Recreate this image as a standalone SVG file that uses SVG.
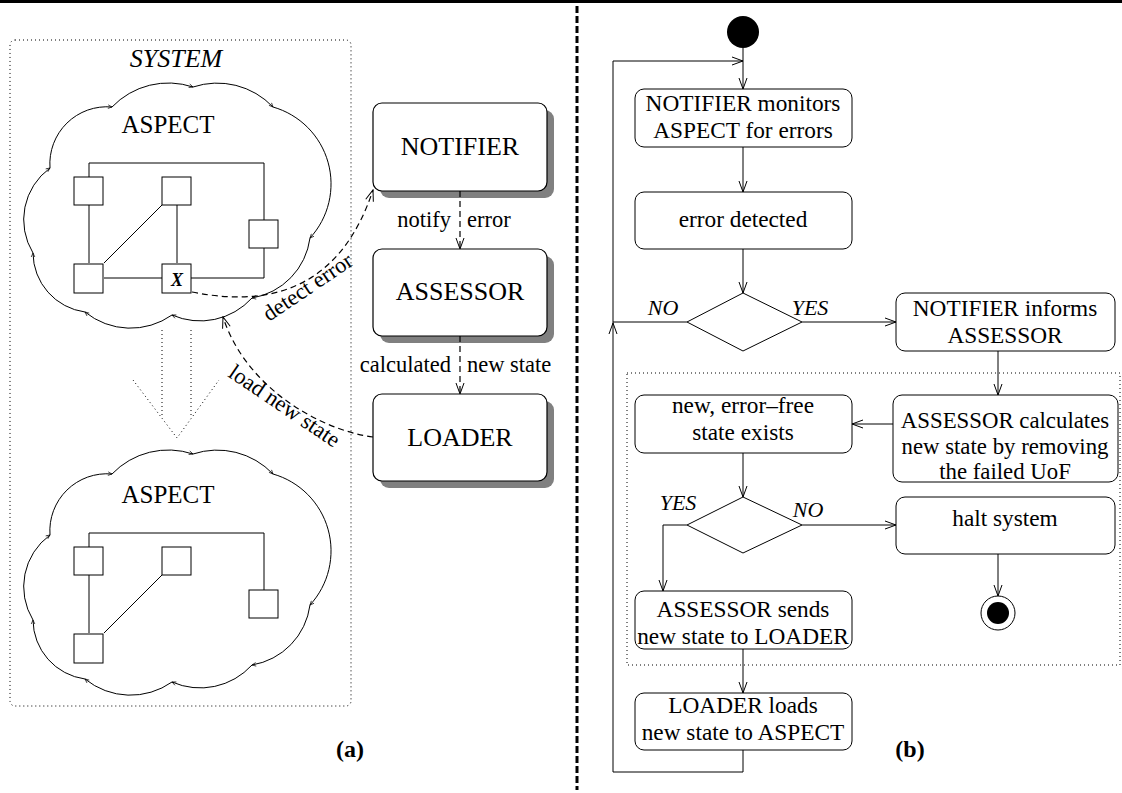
<svg xmlns="http://www.w3.org/2000/svg" width="1122" height="793" viewBox="0 0 1122 793">
  <style>
    .serif { font-family: "Liberation Serif", "Times New Roman", serif; fill: #000; }
    .big { font-size: 26px; }
    .lbl { font-size: 22.5px; }
    .flow { font-size: 23.3px; text-anchor: middle; }
    .it { font-style: italic; }
    .bold { font-weight: bold; }
    .mid { text-anchor: middle; }
    .end { text-anchor: end; }
    .ln { fill: none; stroke: #000; stroke-width: 1; }
    .dash { fill: none; stroke: #000; stroke-width: 1.2; stroke-dasharray: 6 4; }
    .dots { fill: none; stroke: #000; stroke-width: 1; stroke-dasharray: 1 3; }
    .sq { fill: #fff; stroke: #000; stroke-width: 1; }
    .cloud { fill: none; stroke: #000; stroke-width: 1; marker-end: url(#tick); }
    .box { fill: #fff; stroke: #000; stroke-width: 1.2; }
    .shadow { fill: #808080; stroke: none; }
    .fbox { fill: #fff; stroke: #000; stroke-width: 1; }
    .arr { fill: none; stroke: #000; stroke-width: 1; marker-end: url(#open); }
  </style>
  <defs>
    <marker id="open" markerUnits="userSpaceOnUse" markerWidth="14" markerHeight="12" viewBox="-1 -6 13 12" refX="11" refY="0" orient="auto">
      <path d="M0,-4 L11,0 L0,4" fill="none" stroke="#000" stroke-width="1" stroke-dasharray="none"/>
    </marker>
    <marker id="tick" markerUnits="userSpaceOnUse" markerWidth="6" markerHeight="6" viewBox="-1 -3 6 6" refX="4" refY="0" orient="auto">
      <path d="M0,-1.8 L4,0 L0,1.8" fill="none" stroke="#000" stroke-width="0.7"/>
    </marker>
    <!-- cloud outline: nine arcs, each ending in a small tick -->
    <g id="cloudShape">
      <path class="cloud" d="M112,107 A78,78 0 0 1 193,87"/>
      <path class="cloud" d="M193,87 A77,77 0 0 1 273,107"/>
      <path class="cloud" d="M273,107 A80,80 0 0 1 310,238"/>
      <path class="cloud" d="M310,238 A70,70 0 0 1 252,298"/>
      <path class="cloud" d="M252,298 A70,70 0 0 1 172,315"/>
      <path class="cloud" d="M172,315 A72,72 0 0 1 85,312"/>
      <path class="cloud" d="M85,312 A60,60 0 0 1 33,253"/>
      <path class="cloud" d="M33,253 A64,64 0 0 1 50,168"/>
      <path class="cloud" d="M50,168 A57,57 0 0 1 112,107"/>
    </g>
  </defs>

  <rect x="0" y="0" width="1122" height="3" fill="#000"/>

  <!-- divider between the two panels -->
  <line x1="577" y1="6" x2="577" y2="790" stroke="#000" stroke-width="3" stroke-dasharray="7 3"/>

  <!-- ===== (a) ===== -->
  <g id="system">
    <rect x="10" y="40" width="341" height="666" rx="5" class="dots"/>
    <text x="176" y="67" class="serif big it mid">SYSTEM</text>
  </g>

  <g id="aspect-top">
    <use href="#cloudShape"/>
    <text x="168" y="133" class="serif mid" font-size="25">ASPECT</text>
    <path class="ln" d="M89,177 V163 H264 V220 M264,248 V278 H191 M162,278 H104 M89,205 V263 M177,205 V263 M162,205 L104,263"/>
    <rect class="sq" x="74" y="177" width="29" height="28"/>
    <rect class="sq" x="162" y="177" width="29" height="28"/>
    <rect class="sq" x="249" y="220" width="29" height="28"/>
    <rect class="sq" x="74" y="264" width="29" height="29"/>
    <rect class="sq" x="162" y="264" width="29" height="29"/>
    <text x="177" y="286" class="serif bold it mid" font-size="18">X</text>
  </g>

  <g id="transition-arrow">
    <path class="dots" d="M162,330 V418 M191,330 V418 M133,380 L177,438 L219,380"/>
  </g>

  <g id="aspect-bottom">
    <use href="#cloudShape" transform="translate(0,367)"/>
    <g transform="translate(0,370)">
      <text x="168" y="133" class="serif mid" font-size="25">ASPECT</text>
      <path class="ln" d="M89,177 V163 H264 V220 M89,205 V263 M162,205 L104,263"/>
      <rect class="sq" x="74" y="177" width="29" height="28"/>
      <rect class="sq" x="162" y="177" width="29" height="28"/>
      <rect class="sq" x="249" y="220" width="29" height="28"/>
      <rect class="sq" x="74" y="264" width="29" height="29"/>
    </g>
  </g>

  <g id="notifier">
    <rect class="shadow" x="380" y="110" width="174" height="88" rx="9"/>
    <rect class="box" x="373" y="103" width="174" height="88" rx="9"/>
    <text x="460" y="155" class="serif big mid">NOTIFIER</text>
  </g>
  <g id="assessor">
    <rect class="shadow" x="380" y="256" width="174" height="87" rx="9"/>
    <rect class="box" x="373" y="249" width="174" height="87" rx="9"/>
    <text x="460" y="300" class="serif big mid">ASSESSOR</text>
  </g>
  <g id="loader">
    <rect class="shadow" x="380" y="401" width="174" height="87" rx="9"/>
    <rect class="box" x="373" y="394" width="174" height="87" rx="9"/>
    <text x="460" y="446" class="serif big mid">LOADER</text>
  </g>

  <g id="connectors-a">
    <path class="dash" marker-end="url(#open)" d="M460,191 V249"/>
    <path class="dash" marker-end="url(#open)" d="M460,336 V394"/>
    <path class="dash" marker-end="url(#open)" d="M192,292 Q330,320 373,190"/>
    <path class="dash" marker-end="url(#open)" d="M373,437 C320,430 246,388 223,317"/>
    <text x="451" y="227" class="serif lbl end">notify</text>
    <text x="467" y="227" class="serif lbl">error</text>
    <text x="451" y="372" class="serif lbl end">calculated</text>
    <text x="467" y="372" class="serif lbl">new state</text>
    <text transform="translate(269,322) rotate(-34)" class="serif lbl">detect error</text>
    <text transform="translate(227,376) rotate(34)" class="serif lbl">load new state</text>
  </g>

  <text x="350" y="757" class="serif bold mid" font-size="24">(a)</text>

  <!-- ===== (b) ===== -->
  <g id="recovery-region">
    <rect x="627" y="373" width="493" height="292" fill="#f2f2f2" class="dots"/>
  </g>

  <g id="connectors-b">
    <path class="arr" d="M743,48 V89"/>
    <path class="arr" d="M743,147 V192"/>
    <path class="arr" d="M743,249 V293"/>
    <path class="ln" d="M687,322 H613"/>
    <path class="arr" d="M802,322 H896"/>
    <path class="arr" d="M998,351 V395"/>
    <path class="arr" d="M893,424 H852"/>
    <path class="arr" d="M743,453 V497"/>
    <path class="arr" d="M802,525 H896"/>
    <path class="arr" d="M998,554 V596"/>
    <path class="arr" d="M687,525 H663 V591"/>
    <path class="arr" d="M743,649 V693"/>
    <path class="arr" d="M743,750 V772 H613 V323"/>
    <path class="arr" d="M613,323 V61 H743"/>
    <text x="663" y="315" class="serif it mid" font-size="22">NO</text>
    <text x="810" y="315" class="serif it mid" font-size="22">YES</text>
    <text x="678" y="510" class="serif it mid" font-size="22">YES</text>
    <text x="808" y="517" class="serif it mid" font-size="22">NO</text>
  </g>

  <g id="start">
    <circle cx="743" cy="32" r="16" fill="#000"/>
  </g>

  <g id="monitor">
    <rect class="fbox" x="635" y="89" width="217" height="58" rx="9"/>
    <text x="743" y="111" class="serif flow">NOTIFIER monitors</text>
    <text x="743" y="138" class="serif flow">ASPECT for errors</text>
  </g>
  <g id="detected">
    <rect class="fbox" x="635" y="192" width="217" height="57" rx="9"/>
    <text x="743" y="227" class="serif flow">error detected</text>
  </g>
  <g id="decision-error">
    <path class="fbox" d="M743,293 L802,322 L743,351 L687,322 Z"/>
  </g>
  <g id="informs">
    <rect class="fbox" x="896" y="293" width="219" height="58" rx="9"/>
    <text x="1005" y="316" class="serif flow">NOTIFIER informs</text>
    <text x="1005" y="343" class="serif flow">ASSESSOR</text>
  </g>
  <g id="calculates">
    <rect class="fbox" x="893" y="395" width="225" height="87" rx="9"/>
    <text x="1005" y="428" class="serif flow" style="font-size:22.8px">ASSESSOR calculates</text>
    <text x="1005" y="453.5" class="serif flow" style="font-size:22.8px">new state by removing</text>
    <text x="1005" y="479" class="serif flow" style="font-size:22.8px">the failed UoF</text>
  </g>
  <g id="state-exists">
    <rect class="fbox" x="635" y="395" width="217" height="58" rx="9"/>
    <text x="743" y="413" class="serif flow">new, error–free</text>
    <text x="743" y="440" class="serif flow">state exists</text>
  </g>
  <g id="decision-state">
    <path class="fbox" d="M743,497 L802,525 L743,553 L687,525 Z"/>
  </g>
  <g id="halt">
    <rect class="fbox" x="896" y="497" width="219" height="57" rx="9"/>
    <text x="1005" y="526" class="serif flow">halt system</text>
  </g>
  <g id="end">
    <circle cx="998" cy="613" r="17" fill="#fff" stroke="#000" stroke-width="1"/>
    <circle cx="998" cy="613" r="11" fill="#000"/>
  </g>
  <g id="sends">
    <rect class="fbox" x="635" y="591" width="217" height="58" rx="9"/>
    <text x="743" y="617" class="serif flow">ASSESSOR sends</text>
    <text x="743" y="644" class="serif flow">new state to LOADER</text>
  </g>
  <g id="loads">
    <rect class="fbox" x="635" y="693" width="217" height="57" rx="9"/>
    <text x="743" y="713" class="serif flow">LOADER loads</text>
    <text x="743" y="740" class="serif flow">new state to ASPECT</text>
  </g>

  <text x="910" y="757" class="serif bold mid" font-size="24">(b)</text>
</svg>
